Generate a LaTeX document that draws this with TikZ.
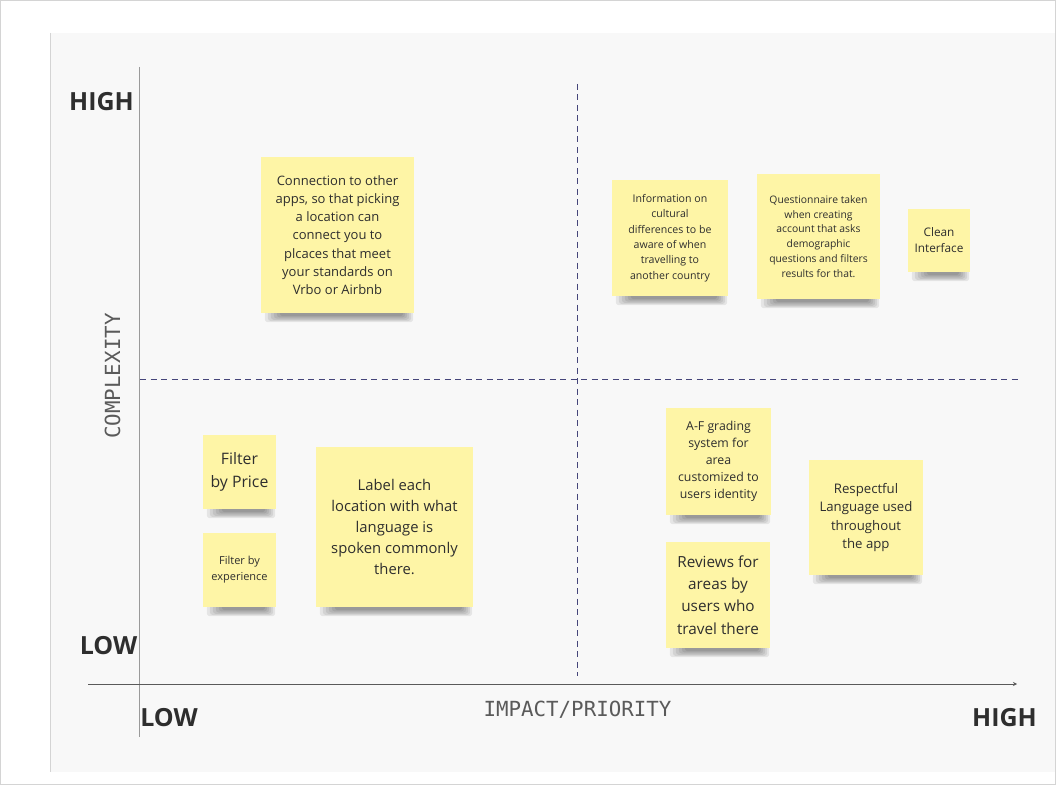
\documentclass[tikz,border=0pt]{standalone}
\usepackage{fontspec}
\setmainfont{Open Sans}
\newfontfamily\monolabel{DejaVu Sans Mono}
\usetikzlibrary{arrows.meta,backgrounds}
\definecolor{panelgray}{HTML}{F8F8F8}
\definecolor{framegray}{HTML}{D4D4D4}
\definecolor{axisgray}{HTML}{9A9A9A}
\definecolor{axisdark}{HTML}{5A5A5A}
\definecolor{quadline}{HTML}{45457A}
\definecolor{stickyyellow}{HTML}{FEF5A6}
\definecolor{inktext}{HTML}{2E2E2E}
\tikzset{
  sticky/.style={fill=stickyyellow, inner sep=0pt, align=center, text=inktext},
  levellabel/.style={font=\fontsize{25}{25}\selectfont\bfseries, text=inktext, inner sep=0pt},
  axislabel/.style={font=\monolabel\fontsize{20.8}{20.8}\selectfont, text=axisdark, inner sep=0pt},
  quadrant/.style={quadline, line width=1pt, dash pattern=on 6pt off 4.5pt},
  softshade/.style={fill=black, fill opacity=0.075, rounded corners=3pt},
}
\newcommand{\fs}[2]{\fontsize{#1}{#2}\selectfont}
\begin{document}
\begin{tikzpicture}[x=1pt,y=-1pt]
  % page and board
  \useasboundingbox (0,0) rectangle (1056,786);
  \begin{pgfonlayer}{background}
    \fill[white] (0,0) rectangle (1056,786);
    \draw[framegray, line width=1pt] (0.5,1) rectangle (1055,784.5);
    \fill[panelgray] (50,33) rectangle (1055,772);
    \draw[framegray, line width=1pt] (50,33) -- (50,772);
  \end{pgfonlayer}

  % axes
  \coordinate (ytop) at (139,67);
  \coordinate (ybot) at (139,737);
  \coordinate (xleft) at (88,684);
  \coordinate (xright) at (1017,684);
  \draw[axisgray, line width=0.8pt] (ytop) -- (ybot);
  \draw[axisdark, line width=0.9pt, -{Stealth[length=4pt,width=4pt]}] (xleft) -- (xright);

  % quadrant dividers
  \coordinate (vtop) at (577,84);
  \coordinate (vbot) at (577,676);
  \coordinate (hleft) at (140,379);
  \coordinate (hright) at (1018,379);
  \draw[quadrant] (vtop) -- (vbot);
  \draw[quadrant] (hleft) -- (hright);

  % level labels
  \node[levellabel] (yhigh) at (101.5,101.5) {HIGH};
  \node[levellabel] (ylow) at (108.5,646) {LOW};
  \node[levellabel] (xlow) at (169,718) {LOW};
  \node[levellabel] (xhigh) at (1004.5,718) {HIGH};
  \node[axislabel, rotate=90] (ytitle) at (112.5,376) {COMPLEXITY};
  \node[axislabel] (xtitle) at (577.5,710) {IMPACT/PRIORITY};

  % sticky notes
  \node[sticky, minimum width=153pt, minimum height=156pt, font=\fs{13}{18.2}] (conn) at (337.5,235)
    {Connection to other\\apps, so that picking\\a location can\\connect you to\\plcaces that meet\\your standards on\\Vrbo or Airbnb};
  \node[sticky, minimum width=116pt, minimum height=116pt, font=\fs{10.6}{15.4}] (info) at (670,238)
    {Information on\\cultural\\differences to be\\aware of when\\travelling to\\another country};
  \node[sticky, minimum width=123pt, minimum height=125pt, font=\fs{10.35}{14.8}] (quest) at (818.5,236.5)
    {Questionnaire taken\\when creating\\account that asks\\demographic\\questions and filters\\results for that.};
  \node[sticky, minimum width=62pt, minimum height=63pt, font=\fs{11.8}{16}] (clean) at (939,240.5)
    {Clean\\Interface};
  \node[sticky, minimum width=73pt, minimum height=74pt, font=\fs{15.8}{23}] (price) at (239.5,472)
    {Filter\\by Price};
  \node[sticky, minimum width=73pt, minimum height=74pt, font=\fs{11}{16}] (exper) at (239.5,570)
    {Filter by\\experience};
  \node[sticky, minimum width=157pt, minimum height=160pt, font=\fs{14.8}{21.2}] (lang) at (394.5,527)
    {Label each\\location with what\\language is\\spoken commonly\\there.};
  \node[sticky, minimum width=105pt, minimum height=107pt, font=\fs{12.3}{17}] (grade) at (718.5,461.5)
    {A-F grading\\system for\\area\\customized to\\users identity};
  \node[sticky, minimum width=114pt, minimum height=115pt, font=\fs{13.2}{18.3}] (respect) at (866,517.5)
    {Respectful\\Language used\\throughout\\the app};
  \node[sticky, minimum width=104pt, minimum height=106pt, font=\fs{15.3}{22.3}] (reviews) at (718,595)
    {Reviews for\\areas by\\users who\\travel there};

  % soft shadows under the lower edge of each note
  \begin{pgfonlayer}{background}
    \foreach \n in {conn,info,quest,clean,price,exper,lang,grade,respect,reviews}{
      \foreach \k in {0,...,5}{
        \pgfmathsetmacro{\lx}{4+3*\k}
        \pgfmathsetmacro{\rx}{-1-2*\k}
        \pgfmathsetmacro{\by}{-(9-1.2*\k)}
        \fill[softshade] ([xshift=\lx pt, yshift=2pt]\n.south west)
          rectangle ([xshift=\rx pt, yshift=\by pt]\n.south east);
      }
    }
  \end{pgfonlayer}
\end{tikzpicture}
\end{document}
